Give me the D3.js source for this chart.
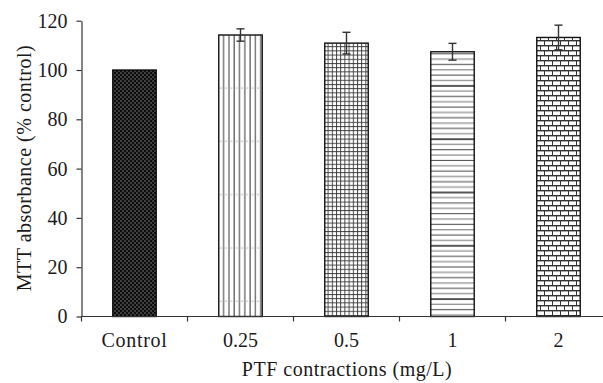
<!DOCTYPE html>
<html>
<head>
<meta charset="utf-8">
<script src="https://cdn.jsdelivr.net/npm/d3@7"></script>
<style>
  body { margin: 0; background: #fff; }
  svg text { font-family: 'Liberation Serif', 'DejaVu Serif', serif; fill: #1a1a1a; }
</style>
</head>
<body>
<div id="chart"></div>
<script>
(function(){
    var categories = ["Control", "0.25", "0.5", "1", "2"];
    var means = [100, 114.2, 110.9, 107.4, 113.2];
    var errors = [0, 2.5, 4.4, 3.4, 5.0];
    var patterns = ["dots", "vlines", "grid", "hlines", "bricks"];
    var yTicks = [0, 20, 40, 60, 80, 100, 120];

    var W = 603, H = 383;
    var margin = {top: 20.7, left: 81.5, bottom: 383 - 316.5};
    var plotH = H - margin.top - margin.bottom;
    var serif = "'Liberation Serif', 'DejaVu Serif', serif";
    var tileH = 53.3; // image tile seam repeat seen in the striped bars

    var svg = d3.select("#chart").append("svg")
        .attr("width", W)
        .attr("height", H);

    var defs = svg.append("defs");

    // dark dotted fill
    var p = defs.append("pattern").attr("id", "dots")
        .attr("patternUnits", "userSpaceOnUse").attr("width", 4).attr("height", 4);
    p.append("rect").attr("width", 4).attr("height", 4).attr("fill", "#0d0d0d");
    p.append("rect").attr("x", 0.5).attr("y", 0.5).attr("width", 1).attr("height", 1).attr("fill", "#cfcfcf");
    p.append("rect").attr("x", 2.5).attr("y", 2.5).attr("width", 1).attr("height", 1).attr("fill", "#cfcfcf");

    // vertical lines (with faint dotted seam)
    p = defs.append("pattern").attr("id", "vlines")
        .attr("patternUnits", "userSpaceOnUse").attr("width", 5.3).attr("height", tileH);
    p.append("rect").attr("width", 5.3).attr("height", tileH).attr("fill", "#fff");
    p.append("line").attr("x1", 1).attr("x2", 1).attr("y1", 0).attr("y2", tileH)
        .attr("stroke", "#333").attr("stroke-width", 1);
    p.append("rect").attr("x", 3).attr("y", 34.2).attr("width", 1).attr("height", 1).attr("fill", "#777");

    // grid
    p = defs.append("pattern").attr("id", "grid")
        .attr("patternUnits", "userSpaceOnUse").attr("width", 4.2).attr("height", 4.2);
    p.append("rect").attr("width", 4.2).attr("height", 4.2).attr("fill", "#fff");
    p.append("line").attr("x1", 0.5).attr("x2", 0.5).attr("y1", 0).attr("y2", 4.2)
        .attr("stroke", "#333").attr("stroke-width", 0.9);
    p.append("line").attr("x1", 0).attr("x2", 4.2).attr("y1", 0.5).attr("y2", 0.5)
        .attr("stroke", "#333").attr("stroke-width", 0.9);

    // horizontal lines (with dark seam)
    p = defs.append("pattern").attr("id", "hlines")
        .attr("patternUnits", "userSpaceOnUse").attr("width", 10).attr("height", tileH);
    p.append("rect").attr("width", 10).attr("height", tileH).attr("fill", "#fff");
    d3.range(0, tileH - 1, 5.33).forEach(function(yy, k){
        p.append("line").attr("x1", 0).attr("x2", 10).attr("y1", yy + 0.5).attr("y2", yy + 0.5)
            .attr("stroke", k % 2 ? "#999" : "#444").attr("stroke-width", k % 2 ? 1.4 : 1);
    });
    p.append("line").attr("x1", 0).attr("x2", 10).attr("y1", 32.7).attr("y2", 32.7)
        .attr("stroke", "#111").attr("stroke-width", 1);

    // bricks
    p = defs.append("pattern").attr("id", "bricks")
        .attr("patternUnits", "userSpaceOnUse").attr("width", 8).attr("height", 10);
    p.append("rect").attr("width", 8).attr("height", 10).attr("fill", "#fff");
    p.append("rect").attr("x", 0).attr("y", 0).attr("width", 8).attr("height", 1).attr("fill", "#333");
    p.append("rect").attr("x", 0).attr("y", 1).attr("width", 8).attr("height", 1).attr("fill", "#aaa");
    p.append("rect").attr("x", 0).attr("y", 5).attr("width", 8).attr("height", 1).attr("fill", "#333");
    p.append("rect").attr("x", 0).attr("y", 6).attr("width", 8).attr("height", 1).attr("fill", "#aaa");
    p.append("rect").attr("x", 0).attr("y", 0).attr("width", 1).attr("height", 5).attr("fill", "#333");
    p.append("rect").attr("x", 4).attr("y", 5).attr("width", 1).attr("height", 5).attr("fill", "#333");

    var x = d3.scaleBand()
        .domain(categories)
        .range([margin.left, margin.left + 530])
        .paddingInner(0.59)
        .paddingOuter(0.295);

    var y = d3.scaleLinear()
        .domain([0, 120])
        .range([margin.top + plotH, margin.top]);

    var rows = categories.map(function(c, i){
        return {cat: c, mean: means[i], err: errors[i], pat: patterns[i]};
    });

    // bars
    svg.selectAll(".bar")
        .data(rows)
        .enter()
        .append("rect")
        .attr("class", "bar")
        .attr("x", function(d){ return x(d.cat); })
        .attr("width", x.bandwidth())
        .attr("y", function(d){ return y(d.mean); })
        .attr("height", function(d){ return y(0) - y(d.mean); })
        .attr("fill", function(d){ return "url(#" + d.pat + ")"; })
        .attr("stroke", "#111")
        .attr("stroke-width", 1.4);

    // error bars
    var eb = svg.selectAll(".err")
        .data(rows.filter(function(d){ return d.err > 0; }))
        .enter()
        .append("g")
        .attr("class", "err")
        .attr("stroke", "#333")
        .attr("stroke-width", 1.4);
    eb.append("line")
        .attr("x1", function(d){ return x(d.cat) + x.bandwidth() / 2; })
        .attr("x2", function(d){ return x(d.cat) + x.bandwidth() / 2; })
        .attr("y1", function(d){ return y(d.mean + d.err); })
        .attr("y2", function(d){ return y(d.mean - d.err); });
    eb.selectAll(".cap")
        .data(function(d){ return [d.mean + d.err, d.mean - d.err].map(function(v){ return {cat: d.cat, v: v}; }); })
        .enter()
        .append("line")
        .attr("x1", function(d){ return x(d.cat) + x.bandwidth() / 2 - 4; })
        .attr("x2", function(d){ return x(d.cat) + x.bandwidth() / 2 + 4; })
        .attr("y1", function(d){ return y(d.v); })
        .attr("y2", function(d){ return y(d.v); });

    // y axis
    var yAxis = svg.append("g")
        .attr("transform", "translate(" + margin.left + ",0)")
        .call(d3.axisLeft(y).tickValues(yTicks).tickSize(5).tickSizeOuter(0).tickPadding(9));
    yAxis.attr("font-family", serif);
    yAxis.select(".domain").attr("stroke", "#333").attr("stroke-width", 1.2);
    yAxis.selectAll(".tick line").attr("stroke", "#333").attr("stroke-width", 1.2);
    yAxis.selectAll(".tick text")
        .attr("font-size", 20)
        .attr("fill", "#1a1a1a");

    // x axis
    var step = x.step();
    var xg = svg.append("g");
    xg.append("line")
        .attr("x1", margin.left).attr("x2", W)
        .attr("y1", y(0)).attr("y2", y(0))
        .attr("stroke", "#333").attr("stroke-width", 1.2);
    xg.selectAll(".xtick")
        .data(categories)
        .enter()
        .append("line")
        .attr("class", "xtick")
        .attr("x1", function(d){ return x(d) + x.bandwidth() / 2 - step / 2; })
        .attr("x2", function(d){ return x(d) + x.bandwidth() / 2 - step / 2; })
        .attr("y1", y(0)).attr("y2", y(0) + 5)
        .attr("stroke", "#333").attr("stroke-width", 1.2);
    xg.selectAll(".xlabel")
        .data(categories)
        .enter()
        .append("text")
        .attr("class", "xlabel")
        .attr("x", function(d){ return x(d) + x.bandwidth() / 2; })
        .attr("y", y(0) + 30)
        .attr("text-anchor", "middle")
        .attr("font-size", 20)
        .attr("letter-spacing", function(d){ return d === "Control" ? 0.7 : 0; })
        .text(function(d){ return d; });

    // axis titles
    svg.append("text")
        .attr("x", 347)
        .attr("y", 376)
        .attr("text-anchor", "middle")
        .attr("font-size", 20)
        .attr("letter-spacing", 0.5)
        .text("PTF contractions (mg/L)");

    svg.append("text")
        .attr("transform", "translate(31," + 168 + ") rotate(-90)")
        .attr("text-anchor", "middle")
        .attr("font-size", 20)
        .attr("letter-spacing", 0.5)
        .text("MTT absorbance (% control)");
})();
</script>
</body>
</html>
